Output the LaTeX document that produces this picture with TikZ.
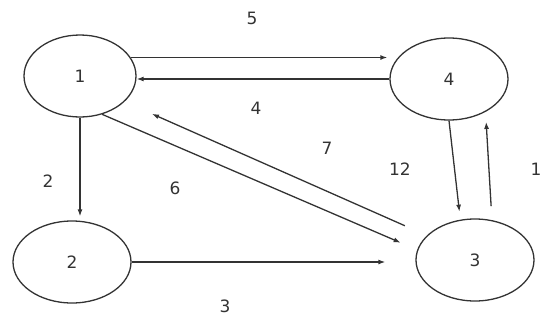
\documentclass[tikz,border=0pt]{standalone}
\usepackage{fontspec}
\setmainfont{DejaVu Sans}
\usetikzlibrary{arrows.meta,shapes.geometric}
\definecolor{inkgray}{HTML}{333333}
\tikzset{
  state/.style = {draw=inkgray, line width=1.3pt, ellipse, inner sep=0pt,
                  minimum width=118pt, minimum height=82pt},
  wt/.style    = {text=inkgray, inner sep=0pt},
  edge/.style  = {-{Latex[length=7pt,width=5pt]}, draw=inkgray, line width=1.3pt},
}
\begin{document}
\begin{tikzpicture}[x=1pt,y=-1pt,font=\fontsize{17}{20}\selectfont]
\useasboundingbox (0,0) rectangle (544,322);
% ---- vertices ----
\node[state, minimum width=112pt, text=inkgray] (n1) at (80,76) {1};
\node[state, text=inkgray] (n4) at (449,79) {4};
\node[state, text=inkgray] (n2) at (72,262) {2};
\node[state, text=inkgray] (n3) at (475,260) {3};
% ---- weighted arcs ----
\draw[edge, shorten >=2pt] (n1.20) -- (n1.20 -| n4.west);
\draw[edge] (n4.west) -- (n4.west -| n1.east);
\draw[edge, shorten >=4pt] (n1.south) -- (n1.south |- n2.north);
\draw[edge, shorten >=30pt] (n2.east) -- (n2.east -| n3.west);
\draw[edge, shorten >=18pt] (n1.-60) -- (n3.170);
\draw[edge, shorten <=24pt, shorten >=30pt] (n3.153) -- (n1.-30);
\draw[edge, shorten >=8pt] (n4.south) -- (n3.110);
\draw[edge, shorten <=14pt, shorten >=10pt] (n3.67) -- (n4.-42);
% ---- weights ----
\node[wt] (w5) at (252,18) {5};
\node[wt] (w4) at (256,108) {4};
\node[wt] (w2) at (48,181) {2};
\node[wt] (w6) at (175,188) {6};
\node[wt] (w7) at (327,148) {7};
\node[wt] (w12) at (400,169) {12};
\node[wt] (w1) at (536,169) {1};
\node[wt] (w3) at (225,306) {3};
\end{tikzpicture}
\end{document}
